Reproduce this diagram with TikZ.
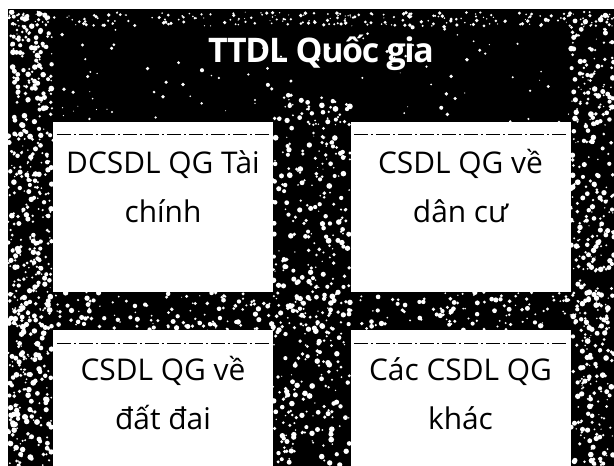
\documentclass[tikz,border=0pt]{standalone}
\usepackage{fontspec}
\setmainfont{Open Sans}
\usepackage{xcolor}
\definecolor{bgdark}{RGB}{0,0,0}
\definecolor{speck}{RGB}{255,255,255}
\definecolor{boxfill}{RGB}{255,255,255}
\definecolor{boxtext}{RGB}{0,0,0}
\usetikzlibrary{positioning,calc}

\begin{document}
\begin{tikzpicture}[x=1bp, y=-1bp,
  dbbox/.style={fill=boxfill, draw=none, minimum width=220bp, minimum height=170bp, inner sep=0},
  dbtext/.style={font=\fontsize{30}{49}\selectfont, text=boxtext, align=center, anchor=base, inner sep=0},
  sepline/.style={black, line width=0.6bp, dash pattern=on 14bp off 3bp on 2bp off 3bp}]
  \useasboundingbox (0,0) rectangle (614,466);
  \clip (0,0) rectangle (614,466);

  % Background
  \fill[bgdark] (8,10) rectangle (614,466);

  % Speckle
  \pgfmathsetseed{42}
  \foreach \i in {1,...,500}
    \fill[speck] ({8+606*rnd},{10+456*rnd}) circle ({0.5+1.6*rnd});
  \foreach \i in {1,...,500}
    \fill[speck] ({8+44*rnd},{12+454*rnd}) circle ({0.7+2.2*rnd});
  \foreach \i in {1,...,380}
    \fill[speck] ({571+43*rnd},{12+454*rnd}) circle ({0.7+2.2*rnd});
  \foreach \i in {1,...,380}
    \fill[speck] ({273+77*rnd},{95+371*rnd}) circle ({0.7+2.2*rnd});
  \foreach \i in {1,...,260}
    \fill[speck] ({8+606*rnd},{292+38*rnd}) circle ({0.7+2*rnd});
  \foreach \i in {1,...,220}
    \fill[speck] ({8+606*rnd},{12+14*rnd}) circle ({0.5+1.4*rnd});
  \draw[bgdark, line width=1bp] (8,10) -- (614,10);

  % Title
  \node[font=\fontsize{34}{40}\selectfont\addfontfeatures{LetterSpace=-4}\bfseries, text=white, anchor=base, inner sep=0] (ttdl) at (321,63) {TTDL Quốc gia};

  % Top row
  \node[dbbox] (taichinh) at (163,207) {};
  \node[dbbox] (dancu) at (460.5,207) {};
  % Bottom row
  \node[dbbox] (datdai) at (163,415) {};
  \node[dbbox] (khac) at (460.5,415) {};

  % Lines under box tops
  \foreach \b in {taichinh,dancu,datdai,khac}
    \draw[sepline] ([xshift=4bp,yshift=-13bp]\b.north west) -- ([xshift=-4bp,yshift=-13bp]\b.north east);

  % Box texts
  \node[dbtext] (taichinhtxt) at ([yshift=-101bp]taichinh.north) {DCSDL QG Tài\\chính};
  \node[dbtext] (dancutxt) at ([yshift=-101bp]dancu.north) {CSDL QG về\\dân cư};
  \node[dbtext] (datdaitxt) at ([yshift=-100bp]datdai.north) {CSDL QG về\\đất đai};
  \node[dbtext] (khactxt) at ([yshift=-100bp]khac.north) {Các CSDL QG\\khác};
\end{tikzpicture}
\end{document}
